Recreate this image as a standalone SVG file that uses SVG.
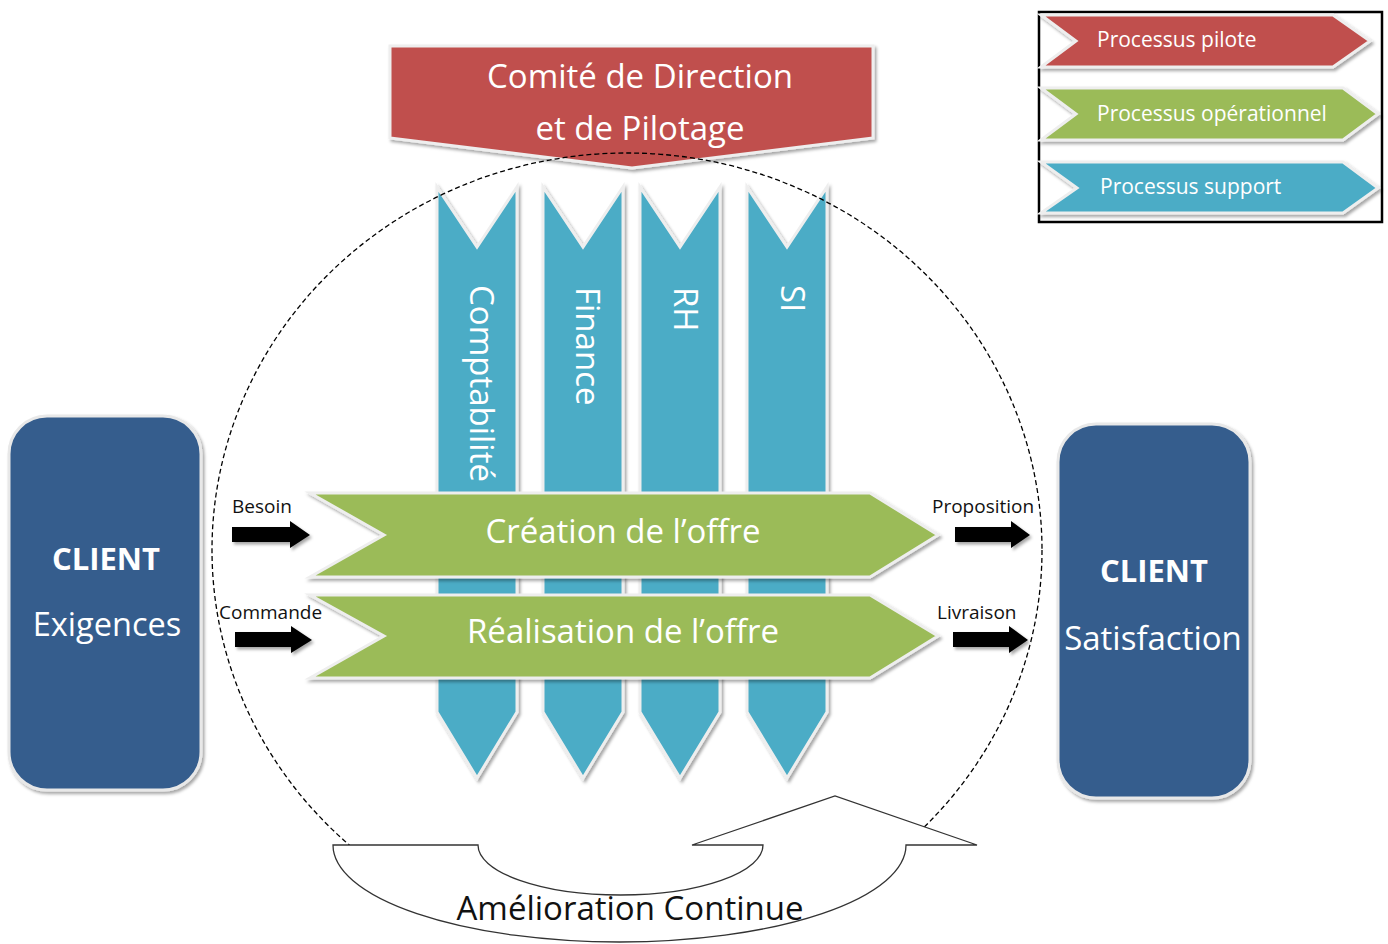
<svg xmlns="http://www.w3.org/2000/svg" width="1388" height="944" viewBox="0 0 1388 944">
<defs>
<filter id="sh" x="-10%" y="-10%" width="130%" height="130%">
<feDropShadow dx="2" dy="2.5" stdDeviation="1.5" flood-color="#000" flood-opacity="0.35"/>
</filter>
<clipPath id="clipTop"><rect x="0" y="0" width="1388" height="845"/></clipPath>
</defs>
<style>
.red{fill:#C0504D;stroke:#EEEEEE;stroke-width:3;stroke-linejoin:miter}
.green{fill:#9BBB59;stroke:#EEEEEE;stroke-width:3}
.blue{fill:#4BACC6;stroke:#EEEEEE;stroke-width:3}
.box{fill:#355D8D;stroke:#E8E8E8;stroke-width:3}
.w{font-family:"Open Sans","Liberation Sans",sans-serif;fill:#FFFFFF}
.lbl{font-family:"Open Sans","Liberation Sans",sans-serif;fill:#111111;font-size:19px}
.blk{fill:#000000}
</style>
<rect width="1388" height="944" fill="#FFFFFF"/>

<g id="legend">
<rect x="1039" y="12" width="343" height="210" fill="#FFFFFF" stroke="#000" stroke-width="2.5"/>
<polygon class="red" filter="url(#sh)" points="1041,15 1333,15 1370,41 1333,67 1041,67 1076,41"/>
<text class="w" x="1097" y="47" font-size="21">Processus pilote</text>
<polygon class="green" filter="url(#sh)" points="1041,88 1343,88 1378,114 1343,140 1041,140 1076,114"/>
<text class="w" x="1097" y="121" font-size="21">Processus opérationnel</text>
<polygon class="blue" filter="url(#sh)" points="1041,162 1343,162 1378,188 1343,213 1041,213 1077,188"/>
<text class="w" x="1100" y="194" font-size="21">Processus support</text>
</g>

<g id="comite">
<polygon class="red" filter="url(#sh)" points="390,46 873,46 873,138 632,168 390,138"/>
<text class="w" x="640" y="88" font-size="33" text-anchor="middle">Comité de Direction</text>
<text class="w" x="640" y="140" font-size="33" text-anchor="middle">et de Pilotage</text>
</g>

<g id="col-comptabilite">
<polygon class="blue" filter="url(#sh)" points="437,187 477,247 517,187 517,712 477,778 437,712"/>
<text class="w" font-size="33" transform="translate(470,285) rotate(90)">Comptabilité</text>
</g>
<g id="col-finance">
<polygon class="blue" filter="url(#sh)" points="543,187 583,247 623,187 623,712 583,778 543,712"/>
<text class="w" font-size="33" transform="translate(576,287) rotate(90)">Finance</text>
</g>
<g id="col-rh">
<polygon class="blue" filter="url(#sh)" points="640,187 680,247 720,187 720,712 680,778 640,712"/>
<text class="w" font-size="33" transform="translate(674,287) rotate(90)">RH</text>
</g>
<g id="col-si">
<polygon class="blue" filter="url(#sh)" points="747,187 787,247 827,187 827,712 787,778 747,712"/>
<text class="w" font-size="33" transform="translate(781,285) rotate(90)">SI</text>
</g>

<g id="creation">
<polygon class="green" filter="url(#sh)" points="310,493 870,493 938,535 870,577 310,577 384,535"/>
<text class="w" x="623" y="543" font-size="33" text-anchor="middle">Création de l’offre</text>
</g>
<g id="realisation">
<polygon class="green" filter="url(#sh)" points="310,595 870,595 938,636 870,678 310,678 384,636"/>
<text class="w" x="623" y="643" font-size="33" text-anchor="middle">Réalisation de l’offre</text>
</g>

<g id="client-exigences">
<rect class="box" filter="url(#sh)" x="9" y="416" width="192" height="374" rx="38" ry="38"/>
<text class="w" x="106" y="570" font-size="31" font-weight="bold" text-anchor="middle">CLIENT</text>
<text class="w" x="107" y="636" font-size="32.5" text-anchor="middle">Exigences</text>
</g>
<g id="client-satisfaction">
<rect class="box" filter="url(#sh)" x="1058" y="424" width="192" height="374" rx="38" ry="38"/>
<text class="w" x="1154" y="582" font-size="31" font-weight="bold" text-anchor="middle">CLIENT</text>
<text class="w" x="1153" y="650" font-size="33" text-anchor="middle">Satisfaction</text>
</g>

<g id="perimetre">
<ellipse cx="627" cy="550" rx="415" ry="397" fill="none" stroke="#000" stroke-width="1.3" stroke-dasharray="5,3" clip-path="url(#clipTop)"/>
</g>

<g id="connectors">
<g filter="url(#sh)">
<polygon class="blk" points="232,527 290,527 290,521 310,535 290,548 290,542 232,542"/>
<polygon class="blk" points="235,632 291,632 291,626 312,640 291,653 291,647 235,647"/>
<polygon class="blk" points="955,527 1011,527 1011,521 1030,535 1011,548 1011,542 955,542"/>
<polygon class="blk" points="953,632 1009,632 1009,626 1028,640 1009,653 1009,647 953,647"/>
</g>
<text class="lbl" x="232" y="513">Besoin</text>
<text class="lbl" x="219" y="619">Commande</text>
<text class="lbl" x="932" y="513">Proposition</text>
<text class="lbl" x="937" y="619">Livraison</text>
</g>

<g id="amelioration">
<path d="M906,845 A286.5,97 0 0 1 333,845 L478,845 A142.5,50 0 0 0 763,845 L692,845 L835,796 L977,845 Z" fill="#FFFFFF" stroke="#333333" stroke-width="1.3" stroke-linejoin="miter"/>
<text x="630" y="920" font-family="Open Sans,Liberation Sans,sans-serif" font-size="33" fill="#111111" text-anchor="middle">Amélioration Continue</text>
</g>
</svg>
